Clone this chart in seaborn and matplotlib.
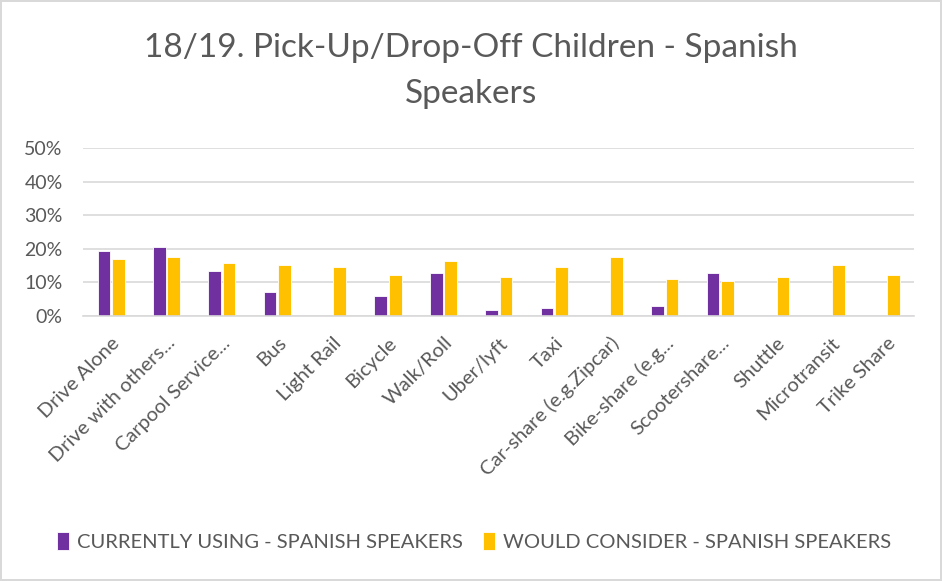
import matplotlib.pyplot as plt
import matplotlib.ticker as mticker
import pandas as pd
import seaborn as sns

# 데이터 (그림에서 읽은 값, 비율)
modes = [
    "Drive Alone", "Drive with others...", "Carpool Service...", "Bus", "Light Rail",
    "Bicycle", "Walk/Roll", "Uber/lyft", "Taxi", "Car-share (e.g.Zipcar)",
    "Bike-share (e.g...", "Scootershare...", "Shuttle", "Microtransit", "Trike Share",
]
currently_using = [0.193, 0.205, 0.133, 0.073, 0.0, 0.061, 0.127, 0.019, 0.025, 0.0,
                   0.031, 0.127, 0.0, 0.0, 0.0]
would_consider = [0.169, 0.175, 0.157, 0.151, 0.145, 0.121, 0.163, 0.115, 0.145, 0.175,
                  0.109, 0.103, 0.115, 0.151, 0.121]
series_names = ["CURRENTLY USING - SPANISH SPEAKERS", "WOULD CONSIDER - SPANISH SPEAKERS"]
y_ticks = [0, 0.1, 0.2, 0.3, 0.4, 0.5]

PURPLE = "#7030A0"
YELLOW = "#FFC000"
TEXT_GRAY = "#595959"

df = pd.DataFrame({
    "Mode": modes * 2,
    "Share": currently_using + would_consider,
    "Series": [series_names[0]] * len(modes) + [series_names[1]] * len(modes),
})

sns.set_style("white")
plt.rcParams["font.family"] = ["Lato", "DejaVu Sans"]

fig = plt.figure(figsize=(9.42, 5.81), dpi=100)
fig.patch.set_edgecolor("#D9D9D9")
fig.patch.set_linewidth(1.5)
ax = fig.add_axes([0.0885, 0.456, 0.882, 0.289])

sns.barplot(
    data=df, x="Mode", y="Share", hue="Series",
    palette=[PURPLE, YELLOW], saturation=1, width=0.52, gap=0.12,
    edgecolor="white", linewidth=0.6, ax=ax,
)

ax.set_ylim(0, 0.5)
ax.set_yticks(y_ticks)
ax.yaxis.set_major_formatter(mticker.PercentFormatter(1.0, decimals=0))
ax.grid(axis="y", color="#D9D9D9", linewidth=1.2)
ax.set_axisbelow(True)
for side in ["top", "right", "left"]:
    ax.spines[side].set_visible(False)
ax.spines["bottom"].set_color("#D9D9D9")
ax.spines["bottom"].set_linewidth(1.2)
ax.set_xlabel("")
ax.set_ylabel("")
ax.tick_params(axis="both", length=0, colors=TEXT_GRAY)
ax.tick_params(axis="x", labelsize=14.5, pad=13)
ax.tick_params(axis="y", labelsize=14, pad=15)
plt.setp(ax.get_xticklabels(), rotation=45, ha="right", rotation_mode="anchor")

fig.text(0.5, 0.918, "18/19. Pick-Up/Drop-Off Children - Spanish", ha="center", va="center",
         fontsize=24, color=TEXT_GRAY)
fig.text(0.5, 0.838, "Speakers", ha="center", va="center", fontsize=24, color=TEXT_GRAY)

ax.legend_.remove()
handles, labels = ax.get_legend_handles_labels()
fig.legend(handles, labels, loc="center", bbox_to_anchor=(0.503, 0.068), ncol=2,
           frameon=False, fontsize=14.5, labelcolor=TEXT_GRAY, handlelength=0.6,
           handleheight=1.0, handletextpad=0.4, columnspacing=1.0)

fig.savefig("out.png", dpi=100)
plt.close(fig)
